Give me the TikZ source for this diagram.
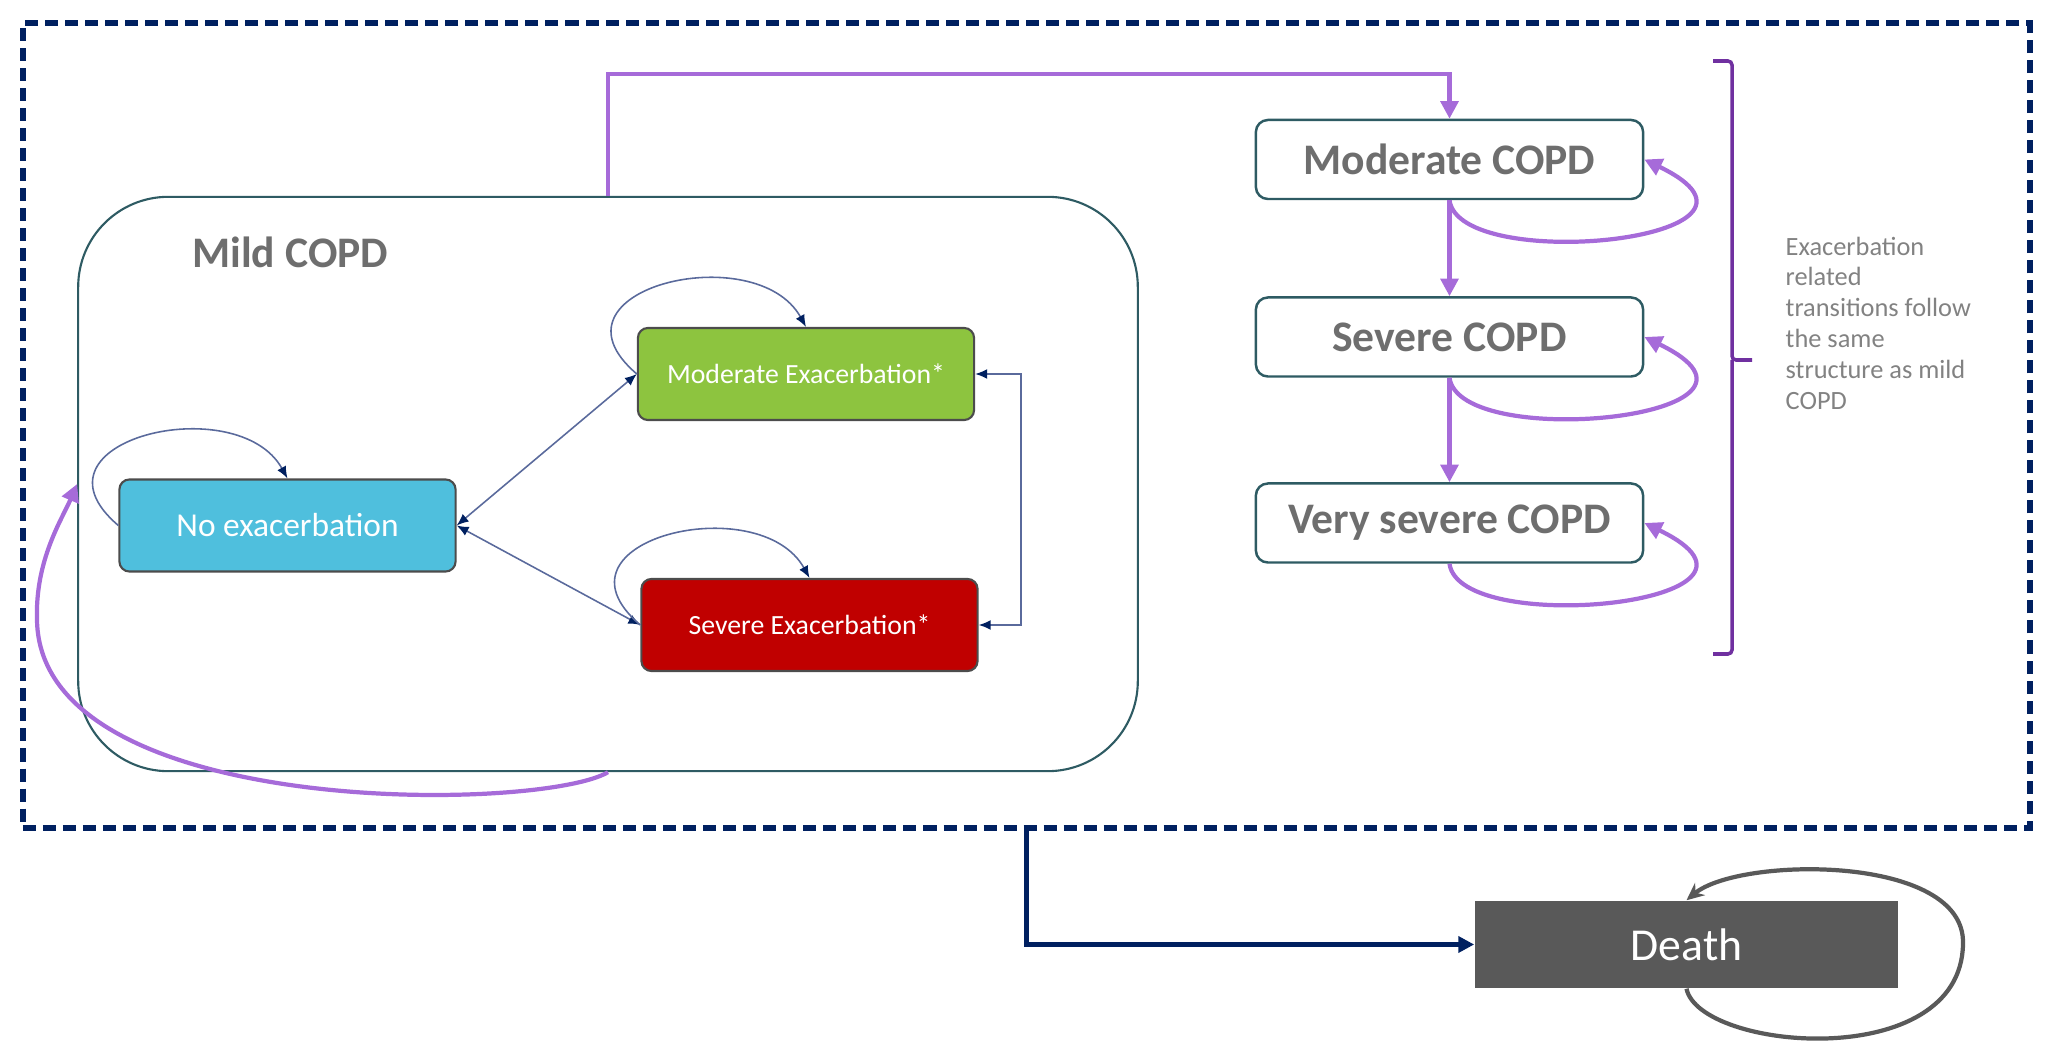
\documentclass[tikz,border=0pt]{standalone}
\usepackage{fontspec}
\setmainfont{Carlito}
\usetikzlibrary{arrows.meta}
\definecolor{navyLine}{HTML}{002060}
\definecolor{lilac}{HTML}{A66BD9}
\definecolor{bracketPurple}{HTML}{7030A0}
\definecolor{thinBlue}{HTML}{5A6A9C}
\definecolor{noexFill}{HTML}{4FBFDD}
\definecolor{modexFill}{HTML}{8DC43F}
\definecolor{sevexFill}{HTML}{C00000}
\definecolor{tealEdge}{HTML}{2E5B63}
\definecolor{labelGray}{HTML}{6E6E6E}
\definecolor{noteGray}{HTML}{828282}
\definecolor{deathFill}{HTML}{595959}
\begin{document}
\begin{tikzpicture}
[x=0.01cm, y=-0.01cm,
  outerDecorate/.style={shape=rectangle, draw=navyLine, line width=1.7pt,
    dash pattern=on 0.13cm off 0.07cm, minimum width=20.055cm, minimum height=8.045cm, inner sep=0pt},
  mildDecorate/.style={shape=rectangle, rounded corners=0.9cm, draw=tealEdge, line width=0.6pt,
    minimum width=10.59cm, minimum height=5.74cm, inner sep=0pt},
  stateDecorate/.style={shape=rectangle, rounded corners=0.1cm, draw=black!70, line width=0.6pt,
    minimum width=3.36cm, minimum height=0.92cm, text=white, font=\fontsize{7.9}{9}\selectfont},
  copdDecorate/.style={shape=rectangle, rounded corners=0.12cm, draw=tealEdge, line width=0.7pt, fill=white,
    minimum width=3.87cm, minimum height=0.79cm, text=labelGray, font=\fontsize{12.4}{14}\selectfont\bfseries},
  thinLine/.style={draw=thinBlue, line width=0.45pt,
    {Latex[length=3.4pt,width=2.8pt,color=navyLine]}-{Latex[length=3.4pt,width=2.8pt,color=navyLine]}},
  loopLine/.style={draw=thinBlue, line width=0.45pt, -{Latex[length=3.4pt,width=2.8pt,color=navyLine]}},
  purpleLine/.style={draw=lilac, line width=1.2pt, -{Triangle[length=5pt,width=5pt]}},
  deathLine/.style={draw=navyLine, line width=1.4pt, -{Triangle[length=4.5pt,width=4.5pt]}}]
\useasboundingbox (0,0) rectangle (2050,1058);
%% outer frame and mild COPD group
\node (outer) at (1026.25,425.75) [outerDecorate] {};
\node (mild) at (608,484) [mildDecorate] {};
\node (mildlabel) at (180,252) [anchor=west, text=labelGray, font=\fontsize{12.4}{14}\selectfont\bfseries] {Mild COPD};
%% exacerbation states
\node (noex) at (287.5,525.5) [stateDecorate, fill=noexFill, font=\fontsize{9.5}{11}\selectfont] {No exacerbation};
\node (modex) at (806,374) [stateDecorate, fill=modexFill] {Moderate Exacerbation*};
\node (sevex) at (809.5,625) [stateDecorate, fill=sevexFill] {Severe Exacerbation*};
%% severity states
\foreach \nodename/\y/\txt in {mcopd/159.5/Moderate COPD, scopd/337/Severe COPD, vscopd/523/Very severe COPD}
{
  \node (\nodename) at (1449.5,\y) [copdDecorate] {\txt};
}
\node (death) at (1686.5,944.5) [shape=rectangle, fill=deathFill, minimum width=4.23cm, minimum height=0.87cm,
  text=white, font=\fontsize{13}{15}\selectfont] {Death};
\node (note) at (1785,236) [anchor=north west, align=left, inner sep=0pt, text=noteGray,
  font=\fontsize{7.5}{8.8}\selectfont] {Exacerbation\\related\\transitions follow\\the same\\structure as mild\\COPD};
%% transitions within mild COPD
\path
\foreach \startnode/\endnode in {noex/modex, noex/sevex}
{
  (\startnode.east) edge[thinLine] (\endnode.west)
};
\draw[thinLine] (modex.east) -- ++(46,0) |- (sevex.east);
\foreach \n in {noex, modex, sevex}
{
  \draw[loopLine] (\n.west) .. controls +(-100,-85) and +(-50,-90) .. (\n.north);
}
%% progression
\draw[purpleLine] (mild.north) -- ++(0,-122) -| (mcopd.north);
\draw[purpleLine] (mcopd.south) -- (scopd.north);
\draw[purpleLine] (scopd.south) -- (vscopd.north);
\foreach \n in {mcopd, scopd, vscopd}
{
  \draw[purpleLine] (\n.south) .. controls +(10,75) and +(165,80) .. (\n.east);
}
\coordinate (turn) at (37,620);
\draw[purpleLine] (mild.south) .. controls +(-68,40) and +(3,200) .. (turn)
  .. controls +(-2,-60) and +(-15,35) .. (mild.west);
%% bracket
\draw[draw=bracketPurple, line width=1pt, rounded corners=0.04cm]
  (1713,61) -| (1732,360) -- (1752,360) (1732,360) |- (1713,654);
%% death
\draw[deathLine] (outer.south) |- (death.west);
\coordinate (deathright) at (1963,944);
\draw[draw=deathFill, line width=1.2pt, -{Stealth[length=5pt,width=4.5pt]}]
  (death.south) .. controls +(13,62) and +(-2,130) .. (deathright)
  .. controls +(3,-90) and +(53,-44) .. (death.north);
\end{tikzpicture}
\end{document}
